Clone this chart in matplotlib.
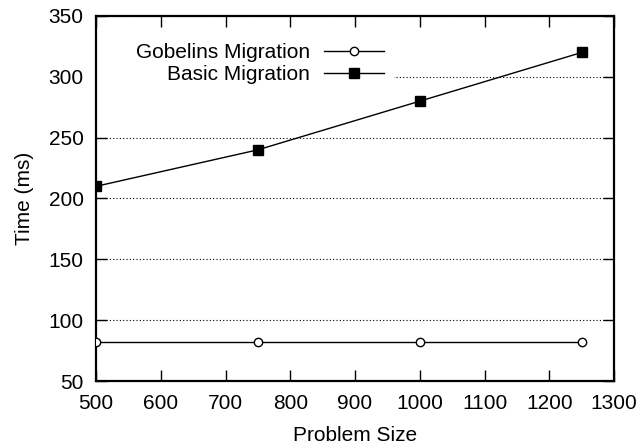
import matplotlib
matplotlib.use("Agg")
import matplotlib.pyplot as plt
import matplotlib.patches as patches

# Данные графика
sizes = [500, 750, 1000, 1250]
gobelins = [82, 82, 82, 82]
basic = [210, 240, 280, 320]
x_ticks = [500, 600, 700, 800, 900, 1000, 1100, 1200, 1300]
y_ticks = [50, 100, 150, 200, 250, 300, 350]

plt.rcParams["font.family"] = ["Liberation Sans", "DejaVu Sans"]
plt.rcParams["font.size"] = 15

fig = plt.figure(figsize=(6.39, 4.44), dpi=100)
ax = fig.add_axes([96 / 639, 63 / 444, 518 / 639, 365 / 444])

ax.plot(sizes, gobelins, color="black", lw=1.0, marker="o", ms=6,
        mfc="white", mec="black", mew=1.0, label="Gobelins Migration", zorder=3)
ax.plot(sizes, basic, color="black", lw=1.0, marker="s", ms=7,
        mfc="black", mec="black", label="Basic Migration", zorder=3)

ax.set_xlim(500, 1300)
ax.set_ylim(50, 350)
ax.set_xticks(x_ticks)
ax.set_yticks(y_ticks)
ax.tick_params(direction="in", length=8, width=1.0, top=True, right=True,
               labelsize=15)
ax.tick_params(axis="x", pad=9)
ax.tick_params(axis="y", pad=9)
for s in ax.spines.values():
    s.set_linewidth(1.6)

# Сетка только по горизонтали, пунктир
ax.yaxis.grid(True, linestyle=(0, (1, 2)), color="black", lw=0.8)
ax.set_axisbelow(True)

# Белая подложка под легендой (закрывает сетку, как в gnuplot)
ax.add_patch(patches.Rectangle((0, 0.80), 0.575, 0.15, transform=ax.transAxes,
                               facecolor="white", edgecolor="none", zorder=1))

ax.set_xlabel("Problem Size", fontsize=15, labelpad=10)
ax.set_ylabel("Time (ms)", fontsize=15, labelpad=10)

leg = ax.legend(loc="center right", bbox_to_anchor=(0.573, 0.870),
                markerfirst=False, frameon=False,
                borderaxespad=0, borderpad=0.4, handlelength=2.9,
                handletextpad=0.67, labelspacing=0.15, fontsize=15)
leg.set_zorder(5)

fig.savefig("out.png", dpi=100)
